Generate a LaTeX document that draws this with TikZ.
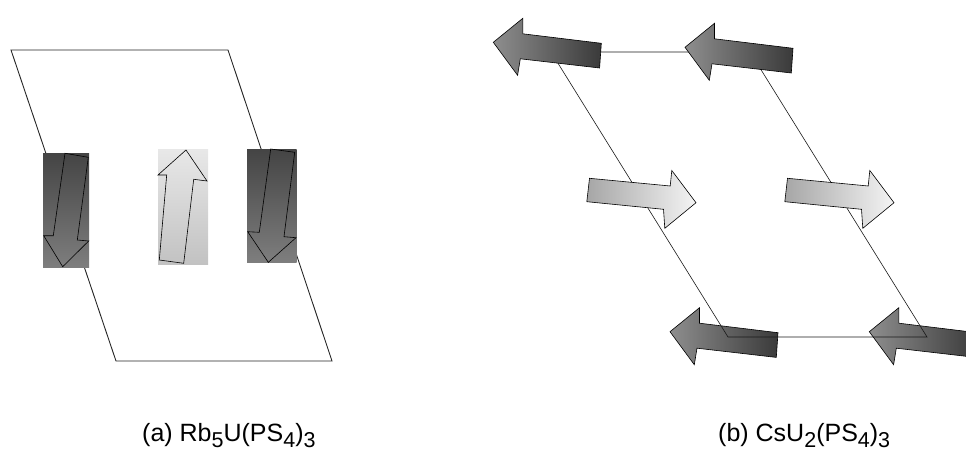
\documentclass[tikz,border=0pt]{standalone}
\usepackage{fontspec}
\newfontfamily\lab{Liberation Sans}
\newcommand\sbs[1]{\raisebox{-6pt}{\fontsize{21.5}{21.5}\selectfont #1}}
\newcommand\arrL{(0,0) -- (29.5,-24) -- (29.5,-8.5) -- (108,1) -- (106.3,25.7) -- (27,16.5) -- (24.3,33) -- cycle}
\newcommand\arrR{(0,0) -- (-24.2,-32.2) -- (-25.8,-16.7) -- (-106.5,-24.4) -- (-109.2,-1) -- (-32.5,6.6) -- (-31.2,25.6) -- cycle}
\definecolor{dkA}{HTML}{444444}
\definecolor{dkB}{HTML}{7E7E7E}
\definecolor{ltA}{HTML}{E8E8E8}
\definecolor{ltB}{HTML}{C2C2C2}
\definecolor{tipD}{HTML}{8E8E8E}
\definecolor{tailD}{HTML}{3A3A3A}
\definecolor{tailL}{HTML}{A6A6A6}
\definecolor{tipL}{HTML}{F4F4F4}
\tikzset{
  cellA/.style={draw=black!85, line width=0.9pt, line join=miter},
  cellB/.style={draw=black!90, line width=0.6pt},
  darkbox/.style={top color=dkA, bottom color=dkB},
  lightbox/.style={top color=ltA, bottom color=ltB},
  spinline/.style={draw=black, line width=0.6pt, line join=miter},
  darkL/.style={draw=black, line width=0.6pt, left color=tipD, right color=tailD},
  lightR/.style={draw=black, line width=0.6pt, left color=tailL, right color=tipL},
  caption/.style={anchor=base west, inner sep=0pt, font=\lab\fontsize{25}{28}\selectfont}
}
\begin{document}
\begin{tikzpicture}[x=1pt,y=-1pt]
\useasboundingbox (0,0) rectangle (966,452);
\clip (0,0) rectangle (966,452);
% ---------- panel (a) ----------
\draw[cellA] (11,50) -- (228,50) -- (332,361) -- (116,361) -- cycle;
\shade[darkbox] (43,153) rectangle (89,267);
\shade[lightbox] (158,149.3) rectangle (208,264);
\shade[darkbox] (247,149) rectangle (296.7,262.7);
\draw[spinline] (65,153.3) -- (88.3,157.3) -- (77.3,240) -- (88.7,241) -- (62.7,266.7) -- (43.7,235.7) -- (53.3,235.7) -- cycle;
\draw[spinline] (186,150) -- (207,181) -- (193.7,179.3) -- (183.7,263.3) -- (159.3,260) -- (166.7,175) -- (158,175) -- cycle;
\draw[spinline] (270.7,149) -- (294.7,152.3) -- (284,236.7) -- (296,237.7) -- (268.3,262.3) -- (247.7,231.7) -- (259.3,232.3) -- cycle;
% ---------- panel (b) ----------
\begin{scope}[shift={(670,331.7)}]\path[darkL] \arrL;\end{scope}
\begin{scope}[shift={(869.3,331.7)}]\path[darkL] \arrL;\end{scope}
\draw[cellB] (551,52) -- (750,52) -- (927,337) -- (728,337) -- cycle;
\begin{scope}[shift={(493.3,42.3)}]\path[darkL] \arrL;\end{scope}
\begin{scope}[shift={(685,47.3)}]\path[darkL] \arrL;\end{scope}
\begin{scope}[shift={(696,202.7)}]\path[lightR] \arrR;\end{scope}
\begin{scope}[shift={(894,202.7)}]\path[lightR] \arrR;\end{scope}
% ---------- captions ----------
\node[caption] (capa) at (142,441) {(a) Rb\sbs{5}U(PS\sbs{4})\sbs{3}};
\node[caption] (capb) at (718,441) {(b) CsU\sbs{2}(PS\sbs{4})\sbs{3}};
\end{tikzpicture}
\end{document}
